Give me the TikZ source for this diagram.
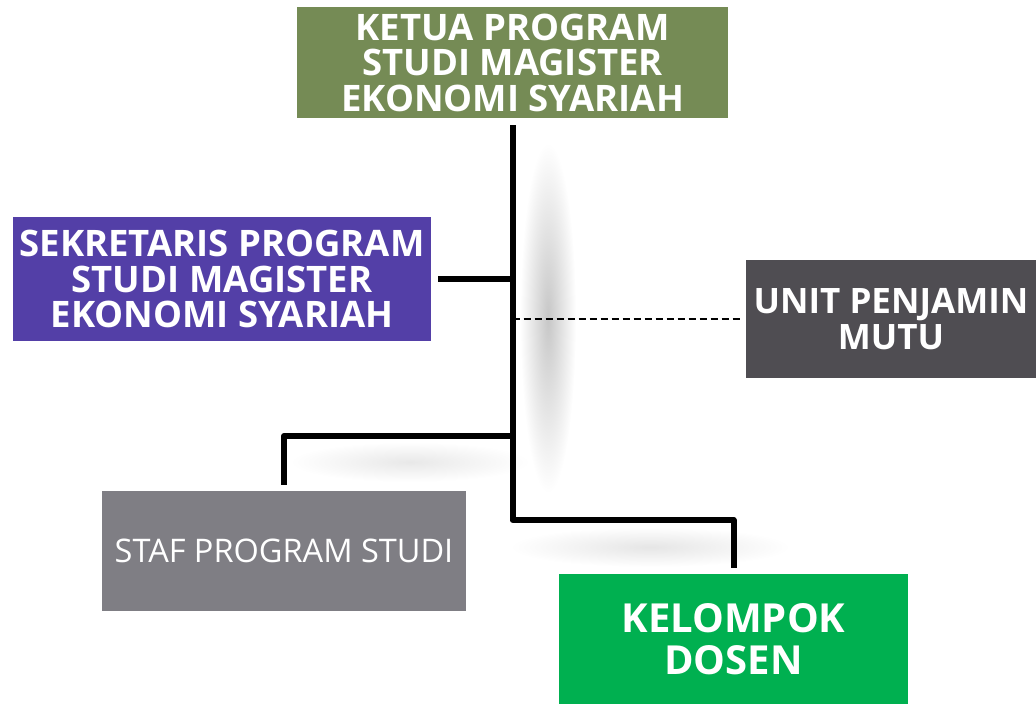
\documentclass[tikz,border=0pt]{standalone}
\usepackage{fontspec}
\setmainfont{Open Sans}
\usetikzlibrary{positioning}
\definecolor{ketuagreen}{HTML}{758B55}
\definecolor{sekpurple}{HTML}{533FA7}
\definecolor{upmgrey}{HTML}{4F4D52}
\definecolor{stafgrey}{HTML}{7F7E84}
\definecolor{dosengreen}{HTML}{00B050}
\tikzset{
      unitbox/.style  = {rectangle, text=white, align=center, inner sep=0pt,
                         font=\bfseries\fontsize{36.5}{35.5}\selectfont},
      orgline/.style  = {black, line width=6pt, line join=round},
      dashline/.style = {black, dashed, line width=1.4pt, dash pattern=on 7pt off 4pt},
      softshadow/.style = {inner color=black!#1, outer color=white},
    }

\begin{document}
\begin{tikzpicture}[x=1pt,y=-1pt]
        \useasboundingbox (0,0) rectangle (1036,704);
        % soft shadows behind the lines
        \shade [softshadow=22] (548,318) ellipse (28 and 175);
        \shade [softshadow=9] (410,462) ellipse (120 and 20);
        \shade [softshadow=10] (650,547) ellipse (140 and 20);

        \node [unitbox, fill=ketuagreen, minimum width=431pt, minimum height=111pt] (ketua) at (512.5,62.5)
              {KETUA PROGRAM\\STUDI MAGISTER\\EKONOMI SYARIAH};
        \node [unitbox, fill=sekpurple, minimum width=418pt, minimum height=124pt] (sekretaris) at (222,279)
              {SEKRETARIS PROGRAM\\STUDI MAGISTER\\EKONOMI SYARIAH};
        \node [unitbox, fill=upmgrey, minimum width=290pt, minimum height=118pt,
               font=\bfseries\fontsize{35}{35.5}\selectfont] (upm) at (891,319)
              {UNIT PENJAMIN\\MUTU};
        \node [unitbox, fill=stafgrey, minimum width=364pt, minimum height=120pt,
               font=\fontsize{32.5}{35}\selectfont] (staf) at (284,551)
              {STAF PROGRAM STUDI};
        \node [unitbox, fill=dosengreen, minimum width=349pt, minimum height=130pt,
               font=\bfseries\fontsize{40}{42}\selectfont] (dosen) at (733.5,639)
              {KELOMPOK\\DOSEN};

        \coordinate (jsek)  at (ketua.south |- sekretaris);
        \coordinate (jupm)  at (ketua.south |- upm);
        \coordinate (jstaf) at (ketua.south |- 0,436);
        \coordinate (jdos)  at (ketua.south |- 0,520);

        \draw [orgline, shorten <=7pt, shorten >=6pt] (ketua.south) -- (jdos) -| (dosen.north);
        \draw [orgline, shorten <=7pt] (sekretaris.east) -- (jsek);
        \draw [orgline, shorten >=6pt] (jstaf) -| (staf.north);
        \draw [dashline, shorten >=4pt] (jupm) -- (upm.west);
\end{tikzpicture}
\end{document}
